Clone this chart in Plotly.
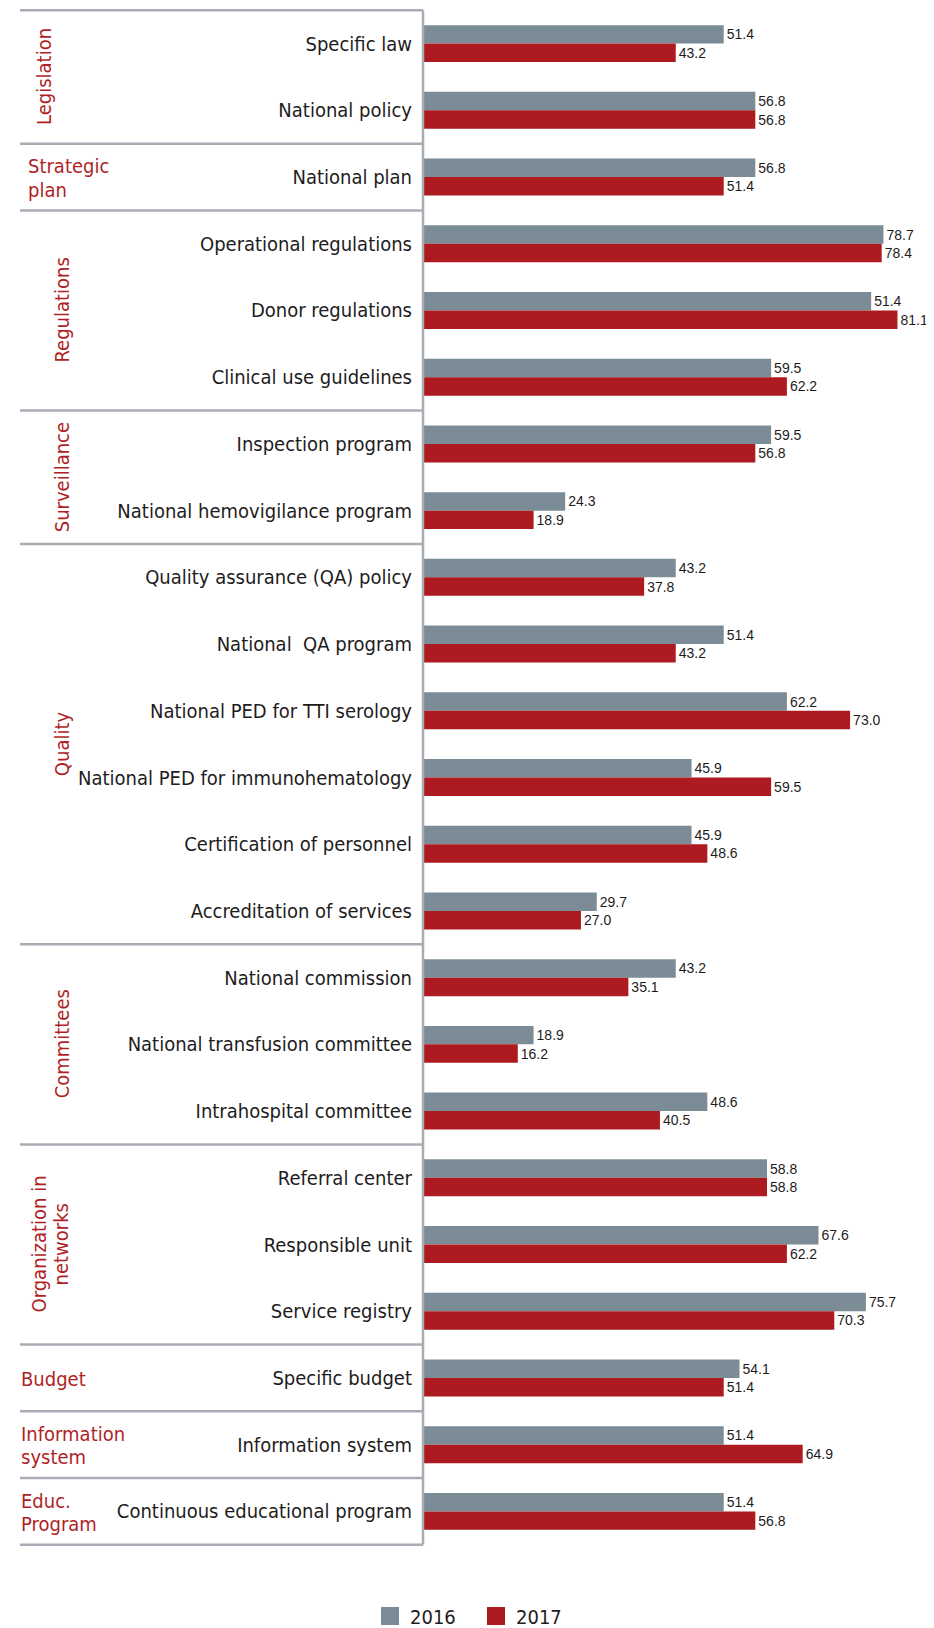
import plotly.graph_objects as go

# ---------------- data ----------------
categories = [
    "Specific law", "National policy", "National plan",
    "Operational regulations", "Donor regulations", "Clinical use guidelines",
    "Inspection program", "National hemovigilance program",
    "Quality assurance (QA) policy", "National\u00a0 QA program",
    "National PED for TTI serology", "National PED for immunohematology",
    "Certification of personnel", "Accreditation of services",
    "National commission", "National transfusion committee", "Intrahospital committee",
    "Referral center", "Responsible unit", "Service registry",
    "Specific budget", "Information system", "Continuous educational program",
]
v2016 = [51.4, 56.8, 56.8, 78.7, 51.4, 59.5, 59.5, 24.3, 43.2, 51.4, 62.2, 45.9,
         45.9, 29.7, 43.2, 18.9, 48.6, 58.8, 67.6, 75.7, 54.1, 51.4, 51.4]
v2017 = [43.2, 56.8, 51.4, 78.4, 81.1, 62.2, 56.8, 18.9, 37.8, 43.2, 73.0, 59.5,
         48.6, 27.0, 35.1, 16.2, 40.5, 58.8, 62.2, 70.3, 51.4, 64.9, 56.8]
# In the source the 2016 "Donor regulations" bar is drawn much longer than its label (51.4)
drawn_2016 = list(v2016)
drawn_2016[4] = 76.6

# groups: (label lines, first row, last row, rotated)
groups = [
    (["Legislation"], 0, 1, True),
    (["Strategic", "plan"], 2, 2, False),
    (["Regulations"], 3, 5, True),
    (["Surveillance"], 6, 7, True),
    (["Quality"], 8, 13, True),
    (["Committees"], 14, 16, True),
    (["Organization in", "networks"], 17, 19, True),
    (["Budget"], 20, 20, False),
    (["Information", "system"], 21, 21, False),
    (["Educ.", "Program"], 22, 22, False),
]
series_names = ["2016", "2017"]

# ---------------- style ----------------
FONT = "DejaVu Sans Condensed, Liberation Sans Narrow, sans-serif"
NUMFONT = "Liberation Sans, Arial, sans-serif"
GREY = "#7b8c97"
RED = "#ad1b21"
GROUP_RED = "#b01f26"
LINE = "#a9acb5"
TXT = "#1e1c1d"
OFF = 8  # page body margin
W, H = 934 - OFF, 1628 - OFF
ML, MR, MT, MB = 423 - OFF, 2, 9 - OFF, 82
PW = W - ML - MR


def px_to_paper(px_ref):
    """reference-page pixel x -> paper fraction"""
    return (px_ref - OFF - ML) / PW


fig = go.Figure()
fig.add_trace(go.Bar(
    y=categories, x=drawn_2016, orientation="h", name=series_names[0],
    marker=dict(color=GREY, line=dict(width=0)),
    text=[f"{v:.1f}" for v in v2016], textposition="outside",
    textfont=dict(family=NUMFONT, size=14, color=TXT), cliponaxis=False,
    constraintext="none", showlegend=False, hoverinfo="x+y",
))
fig.add_trace(go.Bar(
    y=categories, x=v2017, orientation="h", name=series_names[1],
    marker=dict(color=RED, line=dict(width=0)),
    text=[f"{v:.1f}" for v in v2017], textposition="outside",
    textfont=dict(family=NUMFONT, size=14, color=TXT), cliponaxis=False,
    constraintext="none", showlegend=False, hoverinfo="x+y",
))
# legend entries
for nm, col in zip(series_names, [GREY, RED]):
    fig.add_trace(go.Scatter(
        x=[None], y=[None], mode="markers", name=nm,
        marker=dict(symbol="square", size=16, color=col, line=dict(color=col, width=2)),
        showlegend=True, hoverinfo="skip",
    ))

shapes = []
boundaries = sorted(set([g[1] - 0.5 for g in groups] + [groups[-1][2] + 0.5]))
for b in boundaries:
    shapes.append(dict(type="line", xref="paper", yref="y",
                       x0=px_to_paper(20), x1=0, y0=b, y1=b,
                       line=dict(color=LINE, width=2.5), layer="above"))
shapes.append(dict(type="line", xref="paper", yref="y", x0=0, x1=0,
                   y0=boundaries[0], y1=boundaries[-1],
                   line=dict(color=LINE, width=2.5), layer="above"))

annotations = []
rot_x = {"Legislation": 44, "Organization in": 50}
for lines, r0, r1, rotated in groups:
    yc = (r0 + r1) / 2
    n = len(lines)
    for i, ln in enumerate(lines):
        off = (i - (n - 1) / 2) * 22
        if rotated:
            xc = rot_x.get(lines[0], 62)
            annotations.append(dict(
                text=ln, textangle=-90, xref="paper", yref="y",
                x=px_to_paper(xc + off), y=yc, xanchor="center", yanchor="middle",
                showarrow=False, font=dict(family=FONT, size=20, color=GROUP_RED)))
        else:
            xl = 26 if lines[0] == "Strategic" else 19
            annotations.append(dict(
                text=ln, xref="paper", yref="y",
                x=px_to_paper(xl), y=yc, yshift=-(off * 1.05) - 1, xanchor="left", yanchor="middle",
                showarrow=False, font=dict(family=FONT, size=20, color=GROUP_RED)))

fig.update_layout(
    width=W, height=H,
    margin=dict(l=ML, r=MR, t=MT, b=MB, pad=0),
    paper_bgcolor="white", plot_bgcolor="white",
    barmode="group", bargap=0.446, bargroupgap=0,
    font=dict(family=FONT, size=20, color=TXT),
    xaxis=dict(range=[0, 87], visible=False, fixedrange=True),
    yaxis=dict(type="category", categoryorder="array", categoryarray=categories,
               autorange="reversed", showgrid=False, zeroline=False, showline=False,
               ticks="", ticklabelstandoff=10,
               tickfont=dict(family=FONT, size=20, color=TXT)),
    legend=dict(orientation="h", xref="container", yref="container",
                x=(380 - 10 - OFF) / W, y=(H - (1616 - OFF)) / H, xanchor="left", yanchor="middle",
                font=dict(family=FONT, size=20, color=TXT), traceorder="normal",
                itemsizing="trace", entrywidth=61, bgcolor="rgba(0,0,0,0)"),
    shapes=shapes, annotations=annotations,
    showlegend=True,
)

fig.write_html(
    "out.html",
    post_script="document.documentElement.style.overflow='hidden';document.body.style.overflow='hidden';",
)
